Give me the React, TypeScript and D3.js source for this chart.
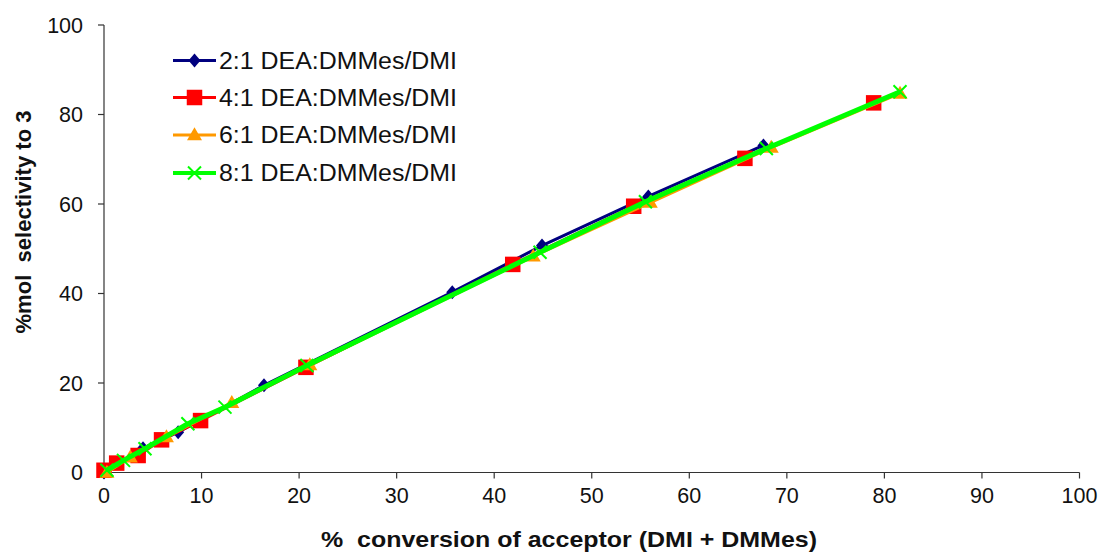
import React from "react";
import * as d3 from "d3";

const seriesNames = ["2:1 DEA:DMMes/DMI", "4:1 DEA:DMMes/DMI", "6:1 DEA:DMMes/DMI", "8:1 DEA:DMMes/DMI"];
const seriesColors = ["#00007f", "#ff0000", "#ff9900", "#00ff00"];
const seriesMarkers = ["diamond", "square", "triangle", "x"];

const s2x = [0, 4.0, 7.6, 16.4, 35.7, 44.9, 55.8, 67.6];
const s2y = [0, 5.4, 9.0, 19.5, 40.3, 50.7, 61.7, 73.1];
const s4x = [0, 1.3, 3.5, 5.9, 9.9, 20.7, 41.9, 54.3, 65.7, 78.9];
const s4y = [0.5, 2.1, 3.8, 7.3, 11.6, 23.5, 46.5, 59.5, 70.2, 82.6];
const s6x = [0.3, 2.7, 6.4, 13.1, 21.1, 44.0, 56.0, 68.4, 81.6];
const s6y = [0, 3.4, 7.9, 15.6, 24.0, 48.3, 60.3, 72.6, 84.7];
const s8x = [0.3, 2.0, 4.2, 8.6, 12.4, 20.8, 44.7, 55.5, 67.9, 81.6];
const s8y = [0.5, 2.7, 5.3, 10.9, 14.6, 23.9, 49.2, 60.5, 72.4, 85.1];

const xTicks = [0, 10, 20, 30, 40, 50, 60, 70, 80, 90, 100];
const yTicks = [0, 20, 40, 60, 80, 100];

const xTitle = "% \u00a0conversion of acceptor (DMI + DMMes)";
const yTitle = "%mol \u00a0selectivity to 3";

const seriesX = [s2x, s4x, s6x, s8x];
const seriesY = [s2y, s4y, s6y, s8y];

function Marker({ type, x, y, color }: { type: string; x: number; y: number; color: string }) {
  if (type === "diamond") {
    const r = 7;
    return <path d={`M${x},${y - r}L${x + r - 1},${y}L${x},${y + r}L${x - r + 1},${y}Z`} fill={color} />;
  }
  if (type === "square") {
    const s = 15.5;
    return <rect x={x - s / 2} y={y - s / 2} width={s} height={s} fill={color} />;
  }
  if (type === "triangle") {
    const w = 15, h = 13;
    return <path d={`M${x},${y - h * 0.6}L${x + w / 2},${y + h * 0.4}L${x - w / 2},${y + h * 0.4}Z`} fill={color} />;
  }
  const r = 6.5;
  return (
    <path d={`M${x - r},${y - r}L${x + r},${y + r}M${x - r},${y + r}L${x + r},${y - r}`} stroke={color} strokeWidth={2} fill="none" />
  );
}

export default function App() {
  const W = 1104, H = 552;
  const x = d3.scaleLinear().domain([0, 100]).range([104, 1079.5]);
  const y = d3.scaleLinear().domain([0, 100]).range([472.5, 25]);
  const line = d3.line<[number, number]>().x((d) => x(d[0])).y((d) => y(d[1]));
  const widths = [3, 3, 3, 5];
  const legendY = [60.5, 97.5, 135, 173];
  const font = "Arial, 'Liberation Sans', sans-serif";

  return (
    <div style={{ position: "fixed", left: 0, top: 0 }}>
      <svg width={W} height={H} style={{ display: "block", background: "#fff" }} fontFamily={font}>
        <line x1={x(0)} x2={x(0)} y1={y(100)} y2={y(0)} stroke="#333" strokeWidth={1.2} />
        <line x1={x(0)} x2={x(100)} y1={y(0)} y2={y(0)} stroke="#333" strokeWidth={1.2} />
        {yTicks.map((t) => (
          <g key={"y" + t}>
            <line x1={x(0) - 6} x2={x(0)} y1={y(t)} y2={y(t)} stroke="#333" strokeWidth={1.2} />
            <text x={83} y={y(t)} dy="0.36em" textAnchor="end" fontSize={21.5} fill="#111">
              {t}
            </text>
          </g>
        ))}
        {xTicks.map((t) => (
          <g key={"x" + t}>
            <line x1={x(t)} x2={x(t)} y1={y(0)} y2={y(0) + 6} stroke="#333" strokeWidth={1.2} />
            <text x={x(t)} y={503} textAnchor="middle" fontSize={21.5} fill="#111">
              {t}
            </text>
          </g>
        ))}
        <text x={569} y={547} textAnchor="middle" fontSize={22} fontWeight="bold" fill="#111" textLength={496} lengthAdjust="spacingAndGlyphs">
          {xTitle}
        </text>
        <text
          transform={`translate(31,222) rotate(-90)`}
          textAnchor="middle"
          fontSize={22}
          fontWeight="bold"
          fill="#111"
          textLength={223}
          lengthAdjust="spacingAndGlyphs"
        >
          {yTitle}
        </text>
        {seriesX.map((xs, i) => {
          const pts = xs.map((v, j) => [v, seriesY[i][j]] as [number, number]);
          return (
            <g key={"s" + i}>
              <path d={line(pts) || ""} fill="none" stroke={seriesColors[i]} strokeWidth={widths[i]} strokeLinejoin="round" />
              {pts.map((p, j) => (
                <Marker key={j} type={seriesMarkers[i]} x={x(p[0])} y={y(p[1])} color={seriesColors[i]} />
              ))}
            </g>
          );
        })}
        {seriesNames.map((n, i) => (
          <g key={"l" + i}>
            <line x1={173} x2={216} y1={legendY[i]} y2={legendY[i]} stroke={seriesColors[i]} strokeWidth={i === 3 ? 4 : 3} />
            <Marker type={seriesMarkers[i]} x={194.5} y={legendY[i]} color={seriesColors[i]} />
            <text x={219} y={legendY[i]} dy="0.36em" fontSize={23} fill="#111" textLength={238} lengthAdjust="spacingAndGlyphs">
              {n}
            </text>
          </g>
        ))}
      </svg>
    </div>
  );
}
